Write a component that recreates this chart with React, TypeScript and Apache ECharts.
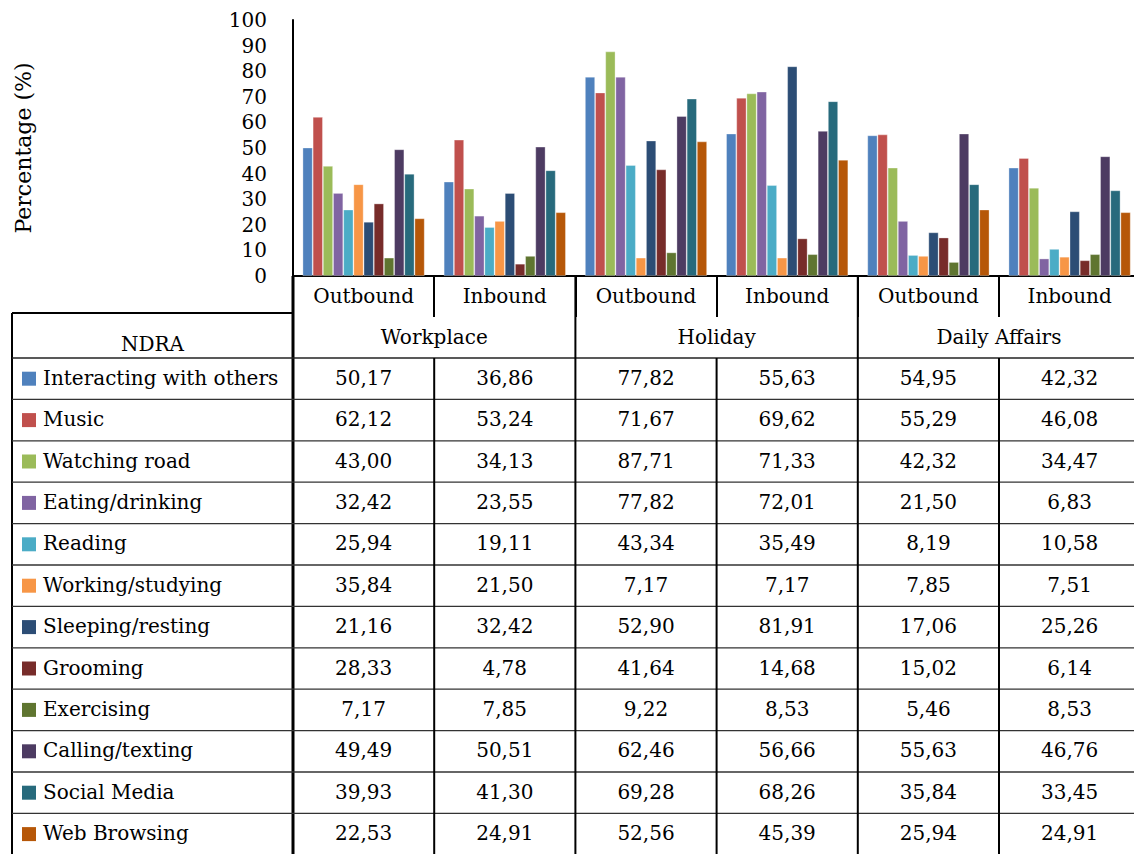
import React, { useEffect, useRef } from "react";
import * as echarts from "echarts";

const CATEGORIES = ["Outbound", "Inbound", "Outbound", "Inbound", "Outbound", "Inbound"];
const GROUPS = ["Workplace", "Holiday", "Daily Affairs"];
const Y_TITLE = "Percentage (%)";
const TABLE_HEADER = "NDRA";

const SERIES_NAMES = [
  "Interacting with others",
  "Music",
  "Watching road",
  "Eating/drinking",
  "Reading",
  "Working/studying",
  "Sleeping/resting",
  "Grooming",
  "Exercising",
  "Calling/texting",
  "Social Media",
  "Web Browsing",
];

const interacting = [50.17, 36.86, 77.82, 55.63, 54.95, 42.32];
const music = [62.12, 53.24, 71.67, 69.62, 55.29, 46.08];
const watchingRoad = [43.0, 34.13, 87.71, 71.33, 42.32, 34.47];
const eatingDrinking = [32.42, 23.55, 77.82, 72.01, 21.5, 6.83];
const reading = [25.94, 19.11, 43.34, 35.49, 8.19, 10.58];
const workingStudying = [35.84, 21.5, 7.17, 7.17, 7.85, 7.51];
const sleepingResting = [21.16, 32.42, 52.9, 81.91, 17.06, 25.26];
const grooming = [28.33, 4.78, 41.64, 14.68, 15.02, 6.14];
const exercising = [7.17, 7.85, 9.22, 8.53, 5.46, 8.53];
const callingTexting = [49.49, 50.51, 62.46, 56.66, 55.63, 46.76];
const socialMedia = [39.93, 41.3, 69.28, 68.26, 35.84, 33.45];
const webBrowsing = [22.53, 24.91, 52.56, 45.39, 25.94, 24.91];

const SERIES_VALUES = [
  interacting,
  music,
  watchingRoad,
  eatingDrinking,
  reading,
  workingStudying,
  sleepingResting,
  grooming,
  exercising,
  callingTexting,
  socialMedia,
  webBrowsing,
];

const COLORS = [
  "#4F81BD",
  "#C0504D",
  "#9BBB59",
  "#8064A2",
  "#4BACC6",
  "#F79646",
  "#2C4D75",
  "#772C2A",
  "#5F7530",
  "#4D3B62",
  "#276A7C",
  "#B65708",
];

// layout
const W = 1134;
const H = 854;
const GRID_LEFT = 293;
const GRID_TOP = 20;
const PLOT_BOTTOM = 276;
const CAT_W = 141.2;
const GRID_RIGHT_EDGE = GRID_LEFT + CAT_W * CATEGORIES.length;
const TABLE_LEFT = 12;
const HEAD1_BOTTOM = 317;
const NDRA_TOP = 313;
const HEAD2_BOTTOM = 358;
const ROW_H = 41.4;
const FONT = '"DejaVu Serif", serif';
const FS = 20;

const fmt = (v: number) => v.toFixed(2).replace(".", ",");

function buildGraphics() {
  const g: any[] = [];
  const tableBottom = HEAD2_BOTTOM + ROW_H * SERIES_NAMES.length;
  const line = (x1: number, y1: number, x2: number, y2: number, w: number, c = "#000") =>
    g.push({ type: "line", shape: { x1, y1, x2, y2 }, style: { stroke: c, lineWidth: w }, z: 10 });
  const text = (t: string, x: number, y: number, align = "center", size = FS) =>
    g.push({
      type: "text",
      x,
      y,
      style: { text: t, fill: "#000", font: `${size}px ${FONT}`, align, verticalAlign: "middle" },
      z: 11,
    });

  // NDRA box
  line(TABLE_LEFT, NDRA_TOP, GRID_LEFT, NDRA_TOP, 2);
  line(TABLE_LEFT, NDRA_TOP, TABLE_LEFT, tableBottom, 2);
  text(TABLE_HEADER, (TABLE_LEFT + GRID_LEFT) / 2, 344);
  // thick left column boundary
  line(GRID_LEFT, PLOT_BOTTOM, GRID_LEFT, tableBottom, 3);
  // horizontal lines
  line(TABLE_LEFT, HEAD2_BOTTOM, GRID_RIGHT_EDGE, HEAD2_BOTTOM, 1.5, "#222");
  for (let i = 1; i <= SERIES_NAMES.length; i++) {
    const y = HEAD2_BOTTOM + ROW_H * i;
    line(TABLE_LEFT, y, GRID_RIGHT_EDGE, y, 1.3, "#333");
  }
  // vertical lines
  for (let c = 1; c < CATEGORIES.length; c++) {
    const x = GRID_LEFT + CAT_W * c;
    if (c % 2 === 0) {
      line(x, PLOT_BOTTOM, x, tableBottom, 2);
    } else {
      line(x, HEAD2_BOTTOM, x, tableBottom, 2);
    }
  }
  // group labels
  GROUPS.forEach((name, i) => {
    text(name, GRID_LEFT + CAT_W * (2 * i + 1), (HEAD1_BOTTOM + HEAD2_BOTTOM) / 2 - 1);
  });
  // rows
  SERIES_NAMES.forEach((name, r) => {
    const yc = HEAD2_BOTTOM + ROW_H * r + ROW_H / 2;
    g.push({
      type: "rect",
      shape: { x: 22, y: yc - 7, width: 14, height: 14 },
      style: { fill: COLORS[r] },
      z: 11,
    });
    text(name, 43, yc - 1, "left");
    SERIES_VALUES[r].forEach((v, c) => {
      text(fmt(v), GRID_LEFT + CAT_W * c + CAT_W / 2, yc - 1);
    });
  });
  return g;
}

export default function App() {
  const ref = useRef<HTMLDivElement>(null);
  useEffect(() => {
    if (!ref.current) return;
    const chart = echarts.init(ref.current, null, { renderer: "svg" });
    const option: any = {
      animation: false,
      backgroundColor: "#fff",
      grid: {
        left: GRID_LEFT,
        top: GRID_TOP,
        width: GRID_RIGHT_EDGE - GRID_LEFT,
        height: PLOT_BOTTOM - GRID_TOP,
        containLabel: false,
        outerBoundsMode: "none",
      },
      xAxis: {
        type: "category",
        data: CATEGORIES,
        boundaryGap: true,
        axisLine: { show: true, lineStyle: { color: "#000", width: 2 } },
        axisTick: { show: true, interval: 0, length: HEAD1_BOTTOM - PLOT_BOTTOM, lineStyle: { color: "#000", width: 2 } },
        axisLabel: { interval: 0, margin: 10, color: "#000", fontSize: FS, fontFamily: FONT },
        splitLine: { show: false },
      },
      yAxis: {
        type: "value",
        min: 0,
        max: 100,
        interval: 10,
        name: Y_TITLE,
        nameLocation: "middle",
        nameGap: 259,
        nameRotate: 90,
        nameTextStyle: { color: "#000", fontSize: 22, fontFamily: FONT },
        axisLine: { show: true, lineStyle: { color: "#000", width: 2 } },
        axisTick: { show: false },
        axisLabel: { margin: 26, color: "#000", fontSize: FS, fontFamily: FONT },
        splitLine: { show: false },
      },
      series: SERIES_NAMES.map((name, i) => ({
        type: "bar",
        name,
        data: SERIES_VALUES[i],
        barGap: "0%",
        barCategoryGap: "13.5%",
        itemStyle: { color: COLORS[i], borderColor: "rgba(255,255,255,0.4)", borderWidth: 0.8 },
      })),
      graphic: buildGraphics(),
    };
    chart.setOption(option);
    return () => chart.dispose();
  }, []);
  return (
    <div
      ref={ref}
      style={{ position: "fixed", left: 0, top: 0, width: W, height: H, background: "#fff" }}
    />
  );
}
